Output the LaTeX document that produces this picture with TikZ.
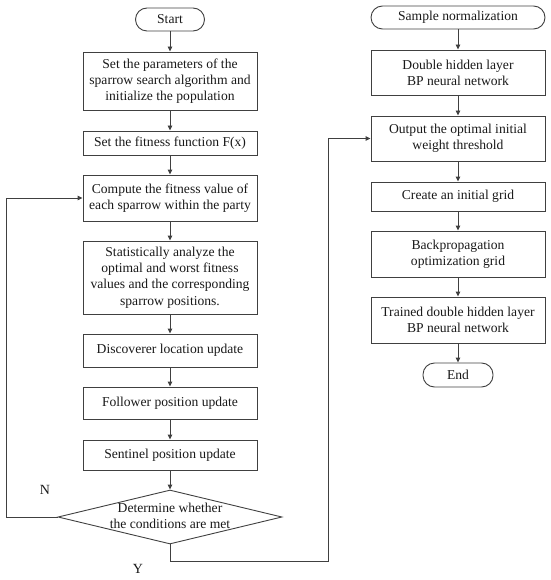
\documentclass[tikz,border=0pt]{standalone}
\usepackage{fontspec}
\setmainfont{Liberation Serif}
\usetikzlibrary{shapes.geometric,arrows.meta}
\begin{document}
\begin{tikzpicture}[x=1pt,y=-1pt,
  every node/.style={font=\fontsize{13.6}{16.2}\selectfont, text=black!90},
  box/.style={draw=black!75, line width=0.9pt, rectangle, align=center, inner sep=0pt, minimum width=174pt},
  term/.style={draw=black!75, line width=0.9pt, rectangle, rounded corners=11.5pt, align=center, inner sep=0pt},
  dia/.style={draw=black!75, line width=0.9pt, diamond, inner sep=0pt, minimum width=224pt, minimum height=54pt},
  arr/.style={draw=black!75, line width=0.9pt, -{Triangle[length=5pt,width=4.5pt]}},
  lbl/.style={font=\fontsize{14}{16}\selectfont}
]
\useasboundingbox (0,0) rectangle (550,580);
% left column
\node[term, minimum width=69pt, minimum height=23pt] (start) at (170,19.5) {Start};
\node[box, minimum height=58pt] (l1) at (170,81) {Set the parameters of the\\sparrow search algorithm and\\initialize the population};
\node[box, minimum height=24pt] (l2) at (170,143) {Set the fitness function F(x)};
\node[box, minimum height=46pt] (l3) at (170,198) {Compute the fitness value of\\each sparrow within the party};
\node[box, minimum height=73pt] (l4) at (170,277.5) {Statistically analyze the\\optimal and worst fitness\\values and the corresponding\\sparrow positions.};
\node[box, minimum height=33pt] (l5) at (170,350.5) {Discoverer location update};
\node[box, minimum height=32pt] (l6) at (170,403) {Follower position update};
\node[box, minimum height=30pt] (l7) at (170,455) {Sentinel position update};
\node[dia] (d) at (170,517) {\makebox[0pt]{\smash{\raisebox{-4pt}{\begin{tabular}{@{}c@{}}Determine whether\\the conditions are met\end{tabular}}}}};
% right column
\node[term, minimum width=174pt, minimum height=23pt] (r0) at (458,17.5) {Sample normalization};
\node[box, minimum height=45pt] (r1) at (458,72.5) {Double hidden layer\\BP neural network};
\node[box, minimum height=45pt] (r2) at (458,138.5) {Output the optimal initial\\weight threshold};
\node[box, minimum height=29pt] (r3) at (458,196.5) {Create an initial grid};
\node[box, minimum height=46pt] (r4) at (458,254) {Backpropagation\\optimization grid};
\node[box, minimum height=46pt] (r5) at (458,320) {Trained double hidden layer\\BP neural network};
\node[term, minimum width=70pt, minimum height=24pt] (end) at (458,375) {End};
% labels
\node[lbl] (n) at (45,490) {N};
\node[lbl] (y) at (138,569) {Y};
% arrows
\draw[arr] (start) -- (l1);
\draw[arr] (l1) -- (l2);
\draw[arr] (l2) -- (l3);
\draw[arr] (l3) -- (l4);
\draw[arr] (l4) -- (l5);
\draw[arr] (l5) -- (l6);
\draw[arr] (l6) -- (l7);
\draw[arr] (l7) -- (d);
\draw[arr] (r0) -- (r1);
\draw[arr] (r1) -- (r2);
\draw[arr] (r2) -- (r3);
\draw[arr] (r3) -- (r4);
\draw[arr] (r4) -- (r5);
\draw[arr] (r5) -- (end);
\coordinate (nleft) at (6,517);
\coordinate (ycorner) at (328,561);
\draw[arr] (d.west) -- (nleft) |- (l3.west);
\draw[arr] (d.south) |- (ycorner) |- (r2.west);
\end{tikzpicture}
\end{document}
